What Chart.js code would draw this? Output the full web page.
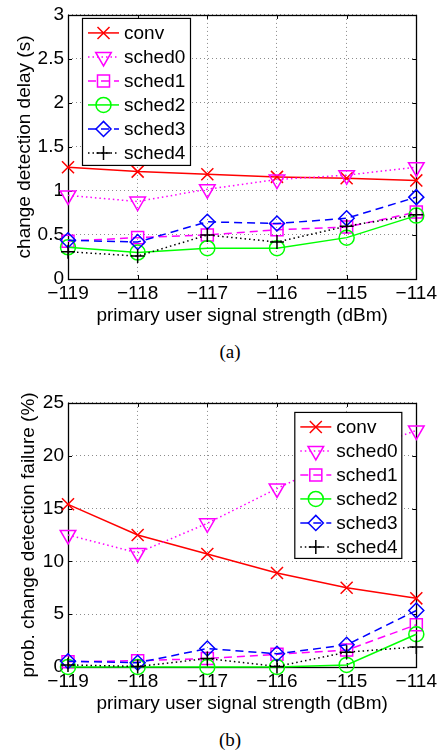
<!DOCTYPE html>
<html>
<head>
<meta charset="utf-8">
<script src="https://cdn.jsdelivr.net/npm/chart.js@4.4.1/dist/chart.umd.min.js"></script>
<style>
  html, body { margin: 0; padding: 0; background: #fff; }
  body { position: relative; width: 441px; height: 753px; overflow: hidden; }
  .panel { position: absolute; left: 0; width: 441px; height: 335px; }
  .caption { position: absolute; left: 0; width: 460px; text-align: center; color: #000;
             font: 19px "Liberation Serif", "Times New Roman", serif; line-height: 22px; }
</style>
</head>
<body>
<div class="panel" style="top:0"><canvas id="delay-chart" width="441" height="335"></canvas></div>
<div class="caption" style="top:341px">(a)</div>
<div class="panel" style="top:388px"><canvas id="failure-chart" width="441" height="335"></canvas></div>
<div class="caption" style="top:729px">(b)</div>
<script>
// x axis: primary user signal strength (dBm)
var signalStrength = ['\u2212119', '\u2212118', '\u2212117', '\u2212116', '\u2212115', '\u2212114'];

// (a) change detection delay (s)
var convDelay   = [1.27, 1.22, 1.19, 1.16, 1.145, 1.12];
var sched0Delay = [0.95, 0.88, 1.02, 1.13, 1.18, 1.27];
var sched1Delay = [0.43, 0.47, 0.50, 0.56, 0.59, 0.76];
var sched2Delay = [0.36, 0.30, 0.35, 0.35, 0.47, 0.72];
var sched3Delay = [0.44, 0.42, 0.65, 0.63, 0.69, 0.93];
var sched4Delay = [0.31, 0.26, 0.50, 0.42, 0.60, 0.73];

// (b) prob. change detection failure (%)
var convFail   = [15.4, 12.5, 10.7, 8.9, 7.5, 6.5];
var sched0Fail = [12.5, 10.8, 13.6, 16.9, 20.0, 22.4];
var sched1Fail = [0.5, 0.6, 0.8, 1.2, 1.6, 4.0];
var sched2Fail = [0.0, 0.0, 0.0, 0.0, 0.2, 3.1];
var sched3Fail = [0.55, 0.4, 1.75, 1.25, 2.1, 5.35];
var sched4Fail = [0.2, 0.05, 0.8, 0.05, 1.4, 1.9];

var seriesNames = ['conv', 'sched0', 'sched1', 'sched2', 'sched3', 'sched4'];

var FONT = '"Liberation Sans", Arial, Helvetica, sans-serif';

var seriesStyles = [
  { color: '#ff0000', dash: [],       point: 'crossRot', radius: 8.5, rotation: 0 },
  { color: '#ff00ff', dash: [1.5, 3], point: 'triangle', radius: 9,   rotation: 180 },
  { color: '#ff00ff', dash: [8, 5],   point: 'rect',     radius: 8.5, rotation: 0 },
  { color: '#00ff00', dash: [],       point: 'circle',   radius: 7.5, rotation: 0 },
  { color: '#0000ff', dash: [8, 5],   point: 'rectRot',  radius: 7.5, rotation: 0 },
  { color: '#000000', dash: [1.5, 3], point: 'cross',    radius: 7,   rotation: 0 }
];

function buildDatasets(series) {
  return series.map(function (values, i) {
    var s = seriesStyles[i];
    return {
      label: seriesNames[i],
      data: values,
      borderColor: s.color,
      borderWidth: 1.5,
      borderDash: s.dash,
      pointStyle: s.point,
      pointRadius: s.radius,
      pointRotation: s.rotation,
      pointBorderColor: s.color,
      pointBorderWidth: 1.5,
      pointBackgroundColor: 'rgba(0,0,0,0)',
      tension: 0,
      clip: false,
      order: series.length - i   // later series drawn on top, like matlab
    };
  });
}

// black box with inward ticks on all four sides
var axesBox = {
  id: 'axesBox',
  beforeDatasetsDraw: function (chart) {
    var ctx = chart.ctx, a = chart.chartArea, x = chart.scales.x, y = chart.scales.y;
    ctx.save();
    ctx.strokeStyle = '#000';
    ctx.lineWidth = 1;
    ctx.setLineDash([]);
    ctx.beginPath();
    x.ticks.forEach(function (t, i) {
      var px = Math.round(x.getPixelForTick(i)) + 0.5;
      ctx.moveTo(px, a.bottom); ctx.lineTo(px, a.bottom - 4);
      ctx.moveTo(px, a.top); ctx.lineTo(px, a.top + 4);
    });
    y.ticks.forEach(function (t, i) {
      var py = Math.round(y.getPixelForTick(i)) + 0.5;
      ctx.moveTo(a.left, py); ctx.lineTo(a.left + 4, py);
      ctx.moveTo(a.right, py); ctx.lineTo(a.right - 4, py);
    });
    ctx.stroke();
    ctx.lineWidth = 1.3;
    ctx.strokeRect(Math.round(a.left) + 0.5, Math.round(a.top) + 0.5,
                   Math.round(a.right - a.left), Math.round(a.bottom - a.top));
    ctx.restore();
  }
};

// matlab style legend box drawn over the plot
function insetLegend(place) {
  return {
    id: 'insetLegend',
    afterDatasetsDraw: function (chart) {
      var ctx = chart.ctx;
      var box = place(chart.chartArea);
      ctx.save();
      ctx.fillStyle = '#fff';
      ctx.fillRect(box.x, box.y, box.w, box.h);
      ctx.strokeStyle = '#000';
      ctx.lineWidth = 1.2;
      ctx.strokeRect(box.x + 0.5, box.y + 0.5, box.w, box.h);
      ctx.font = '19px ' + FONT;
      ctx.textBaseline = 'middle';
      ctx.textAlign = 'left';
      chart.data.datasets.forEach(function (ds, i) {
        var ly = box.y + 15 + i * 24;
        ctx.beginPath();
        ctx.setLineDash(ds.borderDash);
        ctx.strokeStyle = ds.borderColor;
        ctx.lineWidth = ds.borderWidth;
        ctx.moveTo(box.x + 6, ly);
        ctx.lineTo(box.x + 37, ly);
        ctx.stroke();
        ctx.setLineDash([]);
        ctx.fillStyle = 'rgba(0,0,0,0)';
        Chart.helpers.drawPoint(ctx, {
          pointStyle: ds.pointStyle,
          radius: ds.pointRadius,
          rotation: ds.pointRotation,
          borderWidth: ds.pointBorderWidth
        }, box.x + 21.5, ly);
        ctx.fillStyle = '#000';
        ctx.fillText(ds.label, box.x + 42, ly + 1);
      });
      ctx.restore();
    }
  };
}

function chartOptions(yMax, yStep, yTitle, yTitlePad) {
  return {
    responsive: false,
    animation: false,
    events: [],
    layout: { padding: { top: 11, right: 22, left: 0, bottom: 0 } },
    plugins: { legend: { display: false }, tooltip: { enabled: false } },
    scales: {
      x: {
        type: 'category',
        offset: false,
        afterFit: function (scale) { scale.height = 56; },
        grid: { display: true, color: '#8c8c8c', lineWidth: 1, drawTicks: false },
        border: { display: false, dash: [1, 3] },
        ticks: {
          color: '#000', padding: 4, maxRotation: 0, autoSkip: false,
          font: { family: FONT, size: 19, lineHeight: 1.15 }
        },
        title: {
          display: true,
          text: 'primary user signal strength (dBm)',
          color: '#000',
          padding: { top: 0, bottom: 8 },
          font: { family: FONT, size: 19, lineHeight: 1.2 }
        }
      },
      y: {
        min: 0,
        max: yMax,
        afterFit: function (scale) { scale.width = 68; },
        grid: { display: true, color: '#8c8c8c', lineWidth: 1, drawTicks: false },
        border: { display: false, dash: [1, 3] },
        ticks: {
          stepSize: yStep,
          color: '#000',
          padding: 4,
          font: { family: FONT, size: 19, lineHeight: 1.15 },
          callback: function (v) { return String(v); }
        },
        title: {
          display: true,
          text: yTitle,
          color: '#000',
          padding: { top: yTitlePad, bottom: 0 },
          font: { family: FONT, size: 19, lineHeight: 1.2 }
        }
      }
    }
  };
}

new Chart(document.getElementById('delay-chart').getContext('2d'), {
  type: 'line',
  data: {
    labels: signalStrength,
    datasets: buildDatasets([convDelay, sched0Delay, sched1Delay, sched2Delay, sched3Delay, sched4Delay])
  },
  options: chartOptions(3, 0.5, 'change detection delay (s)', 13),
  plugins: [axesBox, insetLegend(function (a) {
    return { x: a.left + 14, y: a.top + 3, w: 108, h: 147 };
  })]
});

new Chart(document.getElementById('failure-chart').getContext('2d'), {
  type: 'line',
  data: {
    labels: signalStrength,
    datasets: buildDatasets([convFail, sched0Fail, sched1Fail, sched2Fail, sched3Fail, sched4Fail])
  },
  options: chartOptions(25, 5, 'prob. change detection failure (%)', 17.5),
  plugins: [axesBox, insetLegend(function (a) {
    return { x: a.right - 122, y: a.top + 9, w: 107, h: 146 };
  })]
});
</script>
</body>
</html>
